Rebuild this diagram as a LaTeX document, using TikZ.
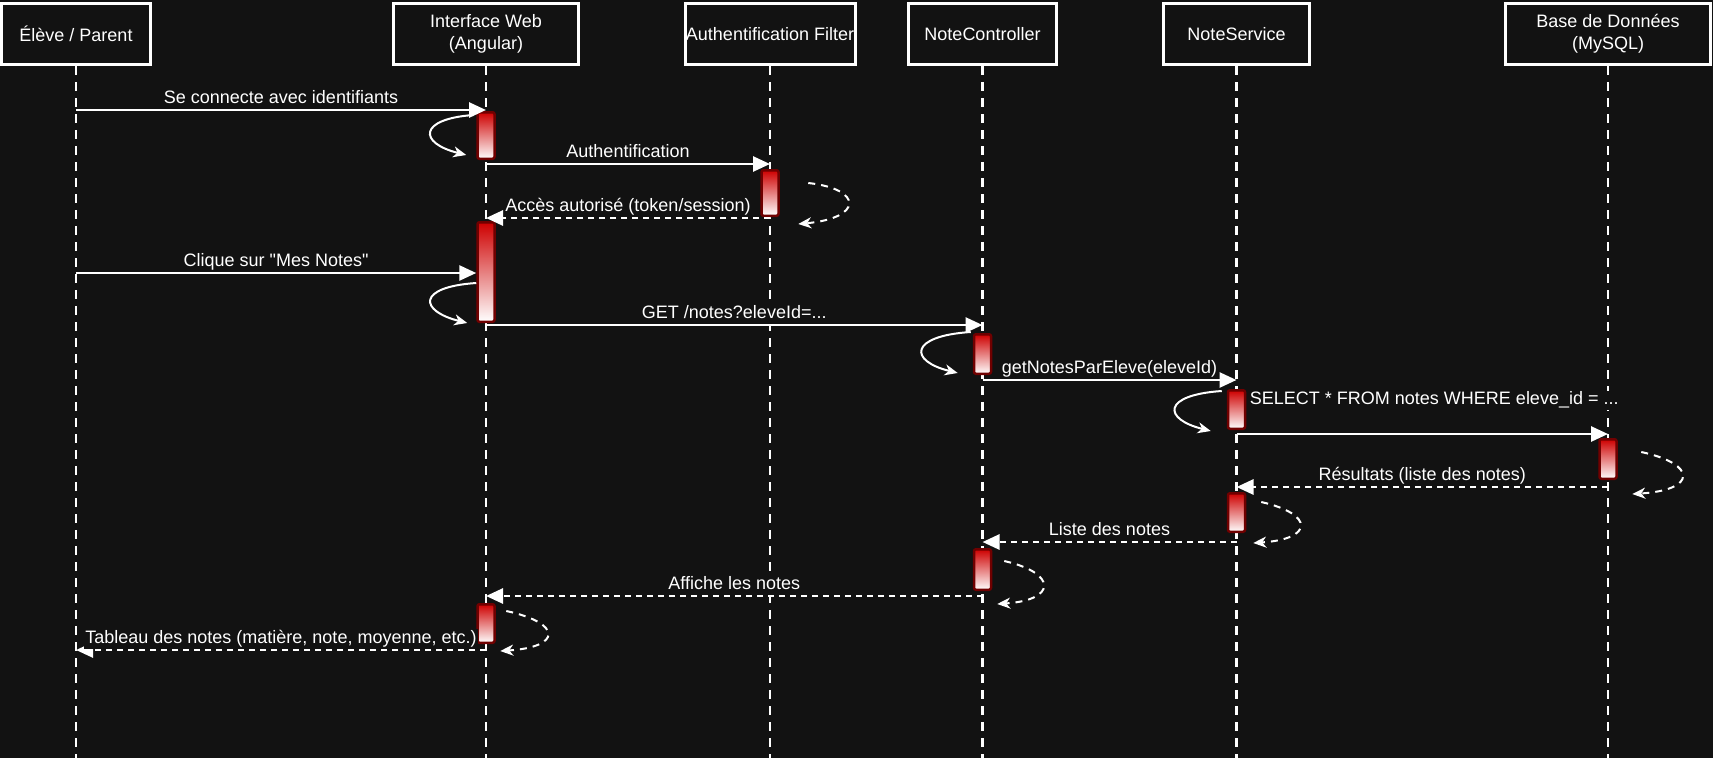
\documentclass[tikz,border=0pt]{standalone}
\usepackage{fontspec}
\setmainfont{Liberation Sans}[Ligatures=TeXOff]
\usepackage{tikz}
\usetikzlibrary{arrows.meta}
\definecolor{bgcol}{RGB}{18,18,18}
\definecolor{actred}{RGB}{206,0,0}
\definecolor{actborder}{RGB}{112,0,0}
\tikzset{
	actor/.style={draw=white, line width=3pt, fill=bgcol, text=white, align=center,
		minimum height=61pt, inner sep=0pt, font=\fontsize{18}{22}\selectfont},
	lifeline/.style={draw=white, line width=2.5pt, dash pattern=on 9pt off 7pt},
	act/.style={draw=actborder, line width=2.5pt, rounded corners=2pt,
		top color=actred, bottom color=white, minimum width=17pt, inner sep=0pt},
	msg/.style={draw=white, line width=2.75pt, -{Triangle[length=17pt,width=15pt]}},
	reply/.style={msg, dash pattern=on 6pt off 5pt},
	selfcall/.style={draw=white, line width=2pt, -{Stealth[length=13pt,width=11pt,inset=4pt]}},
	selfreply/.style={selfcall, dash pattern=on 7pt off 6pt},
	msglabel/.style={fill=bgcol, text=white, inner sep=1pt, text depth=4pt,
		font=\fontsize{18}{22}\selectfont},
}
\begin{document}
\begin{tikzpicture}[x=1pt, y=-1pt, line width=2pt]
	\useasboundingbox (0,0) rectangle (1713,758);
	\fill[bgcol] (0,0) rectangle (1713,758);
	%
	\node[actor, minimum width=149pt] (eleve) at (76,34) {Élève / Parent};
	\node[actor, minimum width=185pt] (web) at (486,34) {Interface Web\\(Angular)};
	\node[actor, minimum width=170pt] (auth) at (770,34) {Authentification Filter};
	\node[actor, minimum width=148pt] (ctrl) at (982.5,34) {NoteController};
	\node[actor, minimum width=146pt] (serv) at (1236.5,34) {NoteService};
	\node[actor, minimum width=205pt] (bdd) at (1608,34) {Base de Données\\(MySQL)};
	%
	\foreach \who in {eleve,web,auth,ctrl,serv,bdd}
		\draw[lifeline] (\who.south) -- (\who |- 0,758);
	%
	\node[act, minimum height=46.5pt] (wa1) at (web |- 0,135.5) {};
	\node[act, minimum height=45.5pt] (aa1) at (auth |- 0,193) {};
	\node[act, minimum height=99.5pt] (wa2) at (web |- 0,272) {};
	\node[act, minimum height=39.5pt] (ca1) at (ctrl |- 0,354) {};
	\node[act, minimum height=38.5pt] (sa1) at (serv |- 0,409.5) {};
	\node[act, minimum height=39.5pt] (da1) at (bdd |- 0,459) {};
	\node[act, minimum height=38.5pt] (sa2) at (serv |- 0,512.5) {};
	\node[act, minimum height=40.5pt] (ca2) at (ctrl |- 0,569.5) {};
	\node[act, minimum height=38.5pt] (wa3) at (web |- 0,623.5) {};
	%
	\draw[msg] (eleve |- 0,110) -- (web |- 0,110)
		node[msglabel, midway, above] {Se connecte avec identifiants};
	\draw[msg] (web |- 0,164) -- (auth |- 0,164)
		node[msglabel, midway, above] {Authentification};
	\draw[reply] (auth |- 0,218) -- (web |- 0,218)
		node[msglabel, midway, above] {Accès autorisé (token/session)};
	\draw[msg] (eleve |- 0,273) -- (wa2.west |- 0,273)
		node[msglabel, midway, above] {Clique sur "Mes Notes"};
	\draw[msg] (web |- 0,325) -- (ctrl |- 0,325)
		node[msglabel, midway, above] {GET /notes?eleveId=...};
	\draw[msg] (ctrl |- 0,380) -- (serv |- 0,380)
		node[msglabel, midway, above] {getNotesParEleve(eleveId)};
	\draw[msg] (serv |- 0,434) -- (bdd |- 0,434)
		node[msglabel, midway, above, xshift=12pt, yshift=23pt] {SELECT * FROM notes WHERE eleve\_id = ...};
	\draw[reply] (bdd |- 0,487) -- (serv |- 0,487)
		node[msglabel, midway, above] {Résultats (liste des notes)};
	\draw[reply] (serv |- 0,542) -- (ctrl |- 0,542)
		node[msglabel, midway, above] {Liste des notes};
	\draw[reply] (ctrl |- 0,596) -- (web |- 0,596)
		node[msglabel, midway, above] {Affiche les notes};
	\draw[reply] (web |- 0,650) -- (eleve |- 0,650)
		node[msglabel, midway, above] {Tableau des notes (matière, note, moyenne, etc.)};
	%
	% self calls, left side
	\draw[selfcall] ([shift={(-3,4)}]wa1.north west) .. controls +(-55,4) and +(-48,-12) .. ([shift={(-10,-5)}]wa1.south west);
	\draw[selfcall] (wa2.west |- 0,283) .. controls +(-60,4) and +(-48,-12) .. ([xshift=-9pt]wa2.south west);
	\draw[selfcall] ([shift={(-2,-1)}]ca1.north west) .. controls +(-62,4) and +(-49,-12) .. ([shift={(-15,-2)}]ca1.south west);
	\draw[selfcall] ([shift={(-5,2)}]sa1.north west) .. controls +(-60,4) and +(-48,-12) .. ([shift={(-16,1)}]sa1.south west);
	%
	% self replies, right side
	\draw[selfreply] ([shift={(28.5,14)}]aa1.north east) .. controls +(55,6) and +(65,-6) .. ([shift={(18.5,7)}]aa1.south east);
	\draw[selfreply] ([shift={(23.5,14)}]da1.north east) .. controls +(56,12) and +(65,-4) .. ([shift={(14.5,14)}]da1.south east);
	\draw[selfreply] ([shift={(15,10)}]sa2.north east) .. controls +(53,12) and +(61,-4) .. ([shift={(7,10)}]sa2.south east);
	\draw[selfreply] ([shift={(12,13)}]ca2.north east) .. controls +(53,12) and +(60,-4) .. ([shift={(5,13)}]ca2.south east);
	\draw[selfreply] ([shift={(10.5,8)}]wa3.north east) .. controls +(56,12) and +(62,-4) .. ([shift={(4.5,7)}]wa3.south east);
\end{tikzpicture}
\end{document}
